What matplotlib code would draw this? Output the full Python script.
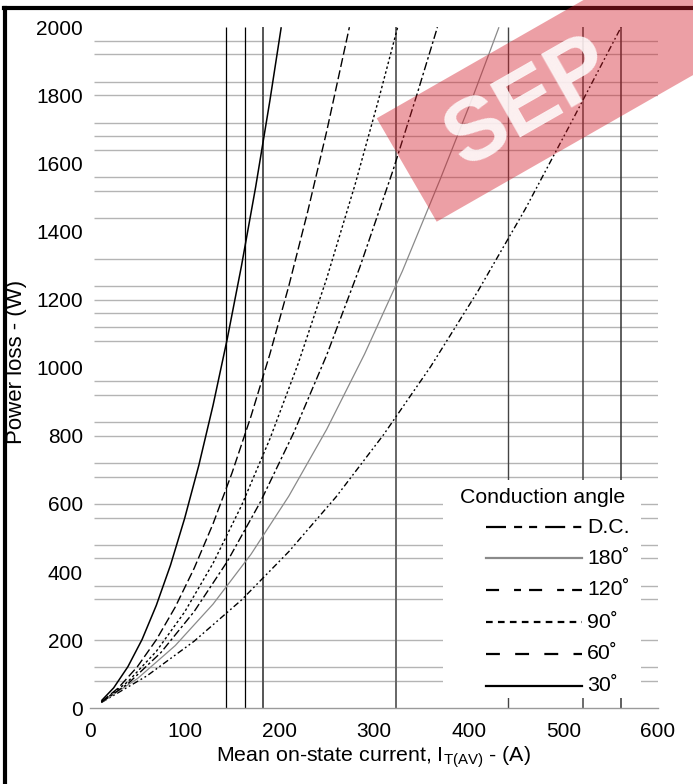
import matplotlib
matplotlib.use("Agg")
import matplotlib.pyplot as plt
from matplotlib.patches import Polygon, Rectangle
from matplotlib.lines import Line2D

plt.rcParams['font.family'] = ['Liberation Sans', 'DejaVu Sans']
plt.rcParams['mathtext.fontset'] = 'custom'
plt.rcParams['mathtext.rm'] = 'Liberation Sans'
plt.rcParams['mathtext.it'] = 'Liberation Sans:italic'
plt.rcParams['lines.scale_dashes'] = False

# values: mean on-state current (A) -> power loss (W)
dc_current = [12, 60, 110, 160, 210, 260, 310, 360, 410, 460, 510, 561]
dc_loss = [17, 95, 197, 318, 460, 621, 803, 1004, 1226, 1467, 1729, 2000]

c180_current = [12, 50, 90, 130, 170, 210, 250, 290, 330, 370, 405, 432]
c180_loss = [17, 87, 184, 306, 452, 623, 819, 1040, 1284, 1554, 1800, 2000]

c120_current = [12, 40, 75, 110, 145, 180, 215, 250, 285, 320, 345, 367]
c120_loss = [18, 72, 164, 284, 431, 606, 808, 1037, 1295, 1579, 1799, 2000]

c90_current = [12, 40, 70, 100, 130, 160, 190, 220, 250, 280, 305, 325]
c90_loss = [18, 78, 167, 283, 426, 595, 791, 1013, 1262, 1538, 1789, 2000]

c60_current = [12, 30, 50, 70, 90, 110, 130, 150, 170, 190, 210, 230, 250, 274]
c60_loss = [19, 60, 122, 201, 297, 411, 542, 691, 857, 1040, 1240, 1459, 1694, 2000]

c30_current = [12, 25, 40, 55, 70, 85, 100, 115, 130, 145, 160, 175, 190, 202]
c30_loss = [22, 60, 122, 202, 302, 420, 558, 714, 890, 1085, 1299, 1531, 1784, 2000]

# vertical lines (A) and the horizontal grid levels that survive in the scan (W)
limit_currents = [143.6, 163.3, 182.7, 322.8, 442, 521, 561]
grid_levels = [80, 120, 200, 320, 360, 440, 480, 560, 600, 680, 720, 800, 840,
               920, 960, 1080, 1120, 1160, 1200, 1240, 1320, 1440, 1520, 1560,
               1640, 1680, 1720, 1800, 1840, 1920, 1960]

x_ticks = [0, 100, 200, 300, 400, 500, 600]
y_ticks = [0, 200, 400, 600, 800, 1000, 1200, 1400, 1600, 1800, 2000]

legend_title = 'Conduction angle'
legend_labels = ['D.C.', '180˚', '120˚', '90˚', '60˚', '30˚']

curves = [
    (dc_current, dc_loss, dict(color='black', lw=1.0, dashes=(4.5, 2, 1.3, 2, 1.3, 2))),
    (c180_current, c180_loss, dict(color='#8a8a8a', lw=0.9)),
    (c120_current, c120_loss, dict(color='black', lw=1.0, dashes=(6, 2, 1.8, 2))),
    (c90_current, c90_loss, dict(color='black', lw=1.0, dashes=(1.8, 1.8))),
    (c60_current, c60_loss, dict(color='black', lw=1.0, dashes=(6.5, 2.5))),
    (c30_current, c30_loss, dict(color='black', lw=1.1)),
]
legend_styles = [
    dict(color='black', lw=1.6, dashes=(14.4, 5.8, 5.8, 5, 5.8, 5.8)),
    dict(color='#8a8a8a', lw=1.6),
    dict(color='black', lw=1.6, dashes=(9.4, 10.8, 5, 5.8)),
    dict(color='black', lw=1.6, dashes=(4.8, 3.8)),
    dict(color='black', lw=1.6, dashes=(10, 11)),
    dict(color='black', lw=1.6),
]
limit_styles = [('black', 0.9), ('black', 0.9), ('#555555', 1.4), ('#666666', 1.4),
                ('#444444', 1.0), ('#444444', 1.1), ('#333333', 1.1)]

fig = plt.figure(figsize=(6.93, 7.84), dpi=100)
ax = fig.add_axes([90 / 693, 1 - 708.3 / 784, 568 / 693, 681.1 / 784])
ax.set_xlim(0, 600)
ax.set_ylim(0, 2000)

ax.hlines(grid_levels, 4, 600, color='#b4b4b4', lw=1.0, zorder=1)
for x, (c, w) in zip(limit_currents, limit_styles):
    ax.vlines(x, 0, 2000, color=c, lw=w, zorder=2)

for cur, loss, style in curves:
    ax.plot(cur, loss, zorder=3, solid_capstyle='butt', dash_capstyle='butt', **style)

# legend sits on a white block that hides the lines behind it
ax.add_patch(Rectangle((373, 30), 209, 640, facecolor='white', edgecolor='none', zorder=4))
ax.text(478, 620, legend_title, ha='center', va='center', fontsize=15.3, zorder=5)
rows = [532, 441, 348, 253, 160, 66]
for y, label, style in zip(rows, legend_labels, legend_styles):
    ax.add_line(Line2D([418, 520], [y, y], zorder=5, dash_capstyle='butt', **style))
    ax.text(525, y, label, ha='left', va='center', fontsize=15.3, zorder=5)

for side in ['top', 'right', 'left']:
    ax.spines[side].set_visible(False)
ax.spines['bottom'].set_color('#9a9a9a')
ax.spines['bottom'].set_linewidth(1.0)

ax.set_xticks(x_ticks)
ax.set_yticks(y_ticks)
ax.tick_params(axis='both', length=0, labelsize=15)
ax.tick_params(axis='x', pad=10)
ax.tick_params(axis='y', pad=5)

fig.text(17 / 693, 1 - 362 / 784, 'Power loss - (W)', rotation=90,
         ha='center', va='center', fontsize=16)
fig.text(373 / 693, 1 - 757 / 784, r'Mean on-state current, I$_{\mathrm{T(AV)}}$ - (A)',
         ha='center', va='center', fontsize=15.4)

# page frame (left and top edges of the scan)
fig.add_artist(Line2D([5 / 693, 5 / 693], [0, 1 - 8 / 784], color='black', lw=3, transform=fig.transFigure))
fig.add_artist(Line2D([4 / 693, 1], [1 - 8 / 784, 1 - 8 / 784], color='black', lw=3, transform=fig.transFigure))

# red watermark in the top right corner
W, H = 693.0, 784.0
band = [(376.7, 118.3), (436.7, 221.7), (800, 13.9), (740, -89.5)]
fig.add_artist(Polygon([(x / W, 1 - y / H) for x, y in band], closed=True,
                       facecolor=(0.83, 0.11, 0.16), alpha=0.42, edgecolor='none',
                       transform=fig.transFigure, zorder=10))
fig.text(530 / W, 1 - 104 / H, 'SEP', rotation=29.7, ha='center', va='center',
         fontsize=64, fontweight='bold', color='white', alpha=0.85, zorder=11,
         rotation_mode='anchor')

fig.savefig('out.png', dpi=100)
